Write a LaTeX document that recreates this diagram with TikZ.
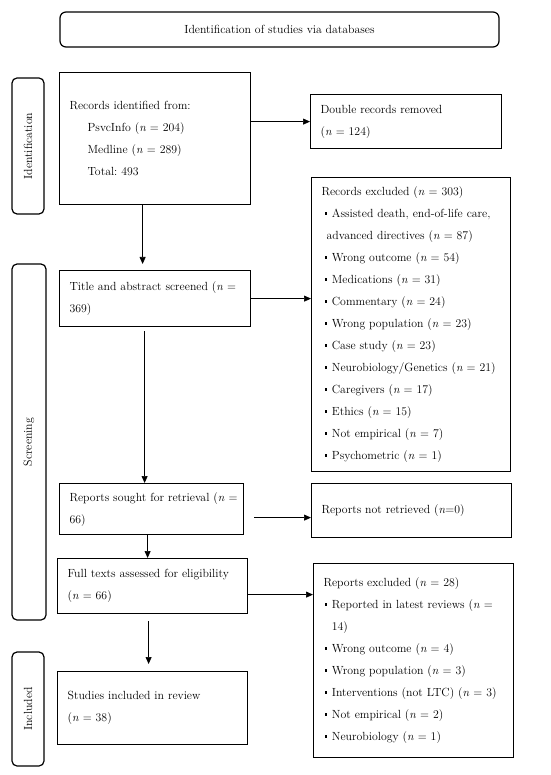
\documentclass[tikz,border=0pt]{standalone}
\usetikzlibrary{arrows.meta}
\newcommand\bul{\raisebox{2.6pt}{\rule{2.8pt}{2.8pt}}\hspace{4.5pt}}
\newcommand\nn{\textit{n}}
\frenchspacing
\begin{document}
\begin{tikzpicture}[x=1pt,y=1pt,
  txt/.style={font=\fontsize{11.8}{22}\selectfont},
  box/.style={txt, draw, line width=1.2pt, inner xsep=10pt, inner ysep=0pt, align=left, anchor=north west},
  side/.style={txt, draw, line width=1.2pt, rounded corners=5pt, rotate=90, inner sep=0pt},
  arr/.style={-{Triangle[length=7pt,width=6pt]}, line width=0.7pt}]
\useasboundingbox (0,0) rectangle (550,-775);

% title
\node[txt, draw, line width=1.2pt, rounded corners=6pt, minimum width=439pt, minimum height=35pt, inner sep=0pt] (title) at (279.5,-29.5) {Identification of studies via databases};

% side labels
\node[side, minimum width=136pt, minimum height=32pt] (sid) at (28,-146) {Identification};
\node[side, minimum width=356pt, minimum height=34pt] (sscr) at (29,-442) {Screening};
\node[side, minimum width=114pt, minimum height=32pt] (sinc) at (28,-709) {Included};

% boxes
\node[box, text width=171pt, minimum height=132pt] (rec) at (59,-72)
 {Records identified from:\\
  \hspace*{18pt}PsvcInfo (\nn{} = 204)\\
  \hspace*{18pt}Medline (\nn{} = 289)\\
  \hspace*{18pt}Total: 493};
\node[box, text width=171pt, minimum height=54pt] (dbl) at (310,-94)
 {Double records removed\\(\nn{} = 124)};
\node[box, text width=179pt, minimum height=294pt] (rex) at (311,-177)
 {Records excluded (\nn{} = 303)\\
  \hspace*{3pt}\bul Assisted death, end-of-life care,\\
  \hspace*{5pt}advanced directives (\nn{} = 87)\\
  \hspace*{3pt}\bul Wrong outcome (\nn{} = 54)\\
  \hspace*{3pt}\bul Medications (\nn{} = 31)\\
  \hspace*{3pt}\bul Commentary (\nn{} = 24)\\
  \hspace*{3pt}\bul Wrong population (\nn{} = 23)\\
  \hspace*{3pt}\bul Case study (\nn{} = 23)\\
  \hspace*{3pt}\bul Neurobiology/Genetics (\nn{} = 21)\\
  \hspace*{3pt}\bul Caregivers (\nn{} = 17)\\
  \hspace*{3pt}\bul Ethics (\nn{} = 15)\\
  \hspace*{3pt}\bul Not empirical (\nn{} = 7)\\
  \hspace*{3pt}\bul Psychometric (\nn{} = 1)};
\node[box, text width=171pt, minimum height=56pt] (tas) at (59,-270)
 {\mbox{Title and abstract screened (\nn{} =}\\369)};
\node[box, text width=164pt, minimum height=51pt] (sought) at (59,-483)
 {\mbox{Reports sought for retrieval (\nn{} =}\\66)};
\node[box, text width=180pt, minimum height=54pt] (nr) at (311,-483)
 {Reports not retrieved (\nn{}=0)};
\node[box, text width=170pt, minimum height=55pt] (ft) at (57,-558)
 {Full texts assessed for eligibility\\(\nn{} = 66)};
\node[box, text width=180pt, minimum height=194pt] (rex2) at (313,-563)
 {Reports excluded (\nn{} = 28)\\
  \hspace*{1pt}\bul \mbox{Reported in latest reviews (\nn{} =}\\
  \hspace*{8.3pt}14)\\
  \hspace*{1pt}\bul Wrong outcome (\nn{} = 4)\\
  \hspace*{1pt}\bul Wrong population (\nn{} = 3)\\
  \hspace*{1pt}\bul Interventions (not LTC) (\nn{} = 3)\\
  \hspace*{1pt}\bul Not empirical (\nn{} = 2)\\
  \hspace*{1pt}\bul Neurobiology (\nn{} = 1)};
\node[box, text width=170pt, minimum height=73pt] (st) at (57,-671)
 {Studies included in review\\(\nn{} = 38)};

% horizontal arrows
\draw[arr] (rec.east |- dbl.west) -- (dbl.west);
\draw[arr] (tas.east) -- (tas.east -| rex.west);
\draw[arr, shorten <=10pt] ([yshift=-7pt]sought.east |- nr.west) -- ([yshift=-7pt]nr.west);
\draw[arr] ([yshift=-8.5pt]ft.east) -- ([yshift=-8.5pt]ft.east -| rex2.west);

% vertical arrows
\draw[arr, shorten >=6pt] ([xshift=-12.5pt]rec.south) -- ([xshift=-12.5pt]rec.south |- tas.north);
\draw[arr, shorten <=4pt] ([xshift=-10.5pt]tas.south) -- ([xshift=-10.5pt]tas.south |- sought.north);
\draw[arr] ([xshift=-4pt]sought.south) -- ([xshift=-4pt]sought.south |- ft.north);
\draw[arr, shorten <=7pt, shorten >=7pt] ([xshift=-4pt]ft.south) -- ([xshift=-4pt]ft.south |- st.north);
\end{tikzpicture}
\end{document}
